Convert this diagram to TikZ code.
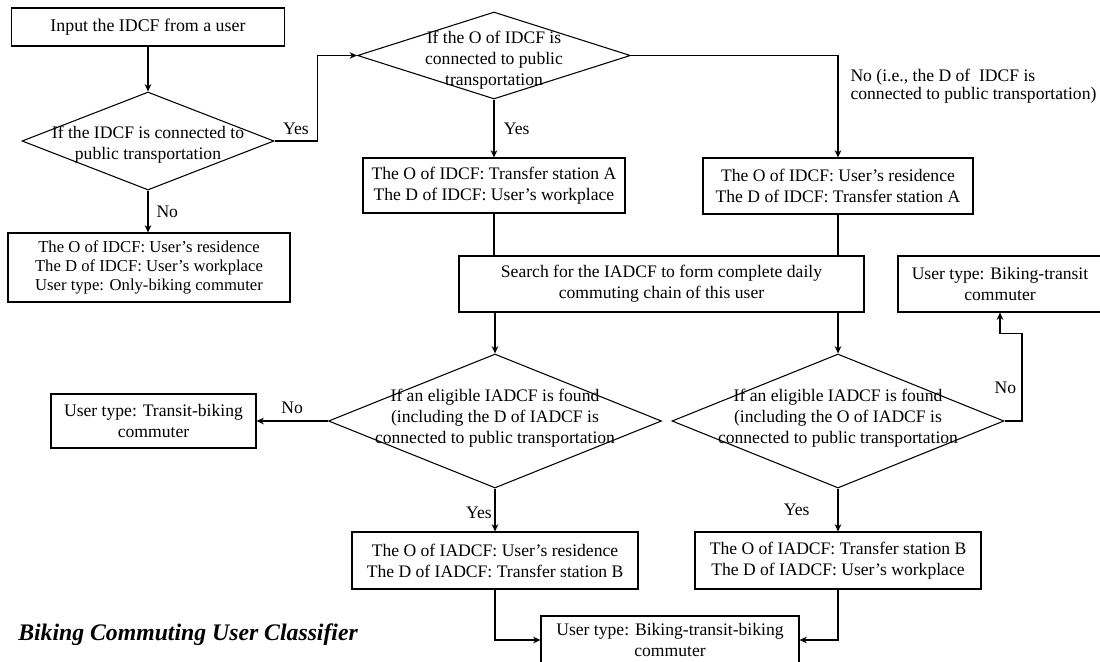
\documentclass[tikz,border=0pt]{standalone}
\usepackage{fontspec}
\setmainfont{Liberation Serif}
\usetikzlibrary{arrows.meta,positioning,shapes.geometric,calc}
\newcommand{\nfont}{\fontsize{13.2}{15.75}\selectfont}
\newcommand{\dtext}[2][0pt]{\smash{\makebox[0pt]{\raisebox{#1}{\begin{tabular}{@{}c@{}}#2\end{tabular}}}}}
\tikzset{
  box/.style={draw,line width=0.8pt,inner sep=0pt,align=center,font=\nfont},
  choice/.style={diamond,draw,line width=0.8pt,inner sep=0pt,font=\nfont},
  wd/.style={minimum width=#1*0.75pt},
  ht/.style={minimum height=#1*0.75pt},
  arr/.style={-{Stealth[length=5.5pt,width=5pt]},line width=0.8pt},
  link/.style={line width=0.8pt},
  lbl/.style={font=\nfont,inner sep=0pt}
}
\begin{document}
\begin{tikzpicture}[x=0.75pt,y=-0.75pt]
  \useasboundingbox (0,0) rectangle (1100,661);
  % first check
  \node[box,wd=273,ht=38,font=\fontsize{13.4}{16}\selectfont] (input) at (148,27) {Input the IDCF from a user};
  \node[choice,wd=252,ht=98] (conn) at (148,141) {\dtext[-5.9pt]{If the IDCF is connected to\\public transportation}};
  \node[box,wd=282,ht=69,font=\fontsize{12.5}{14.3}\selectfont] (onlybike) at (149,267.5) {The O of IDCF: User's residence\\The D of IDCF: User's workplace\\User type: Only-biking commuter};
  % origin or destination
  \node[choice,wd=273,ht=87] (origin) at (494,55.5) {\dtext[-6.3pt]{If the O of IDCF is\\connected to public\\transportation}};
  \node[box,wd=262,ht=55] (oxfer) at (494,185.5) {The O of IDCF: Transfer station A\\The D of IDCF: User's workplace};
  \node[box,wd=270,ht=56] (dxfer) at (838,186) {The O of IDCF: User's residence\\The D of IDCF: Transfer station A};
  \node[box,wd=405,ht=56] (search) at (661.5,284) {Search for the IADCF to form complete daily\\commuting chain of this user};
  \node[box,wd=204,ht=56] (bt) at (1000,284) {User type: Biking-transit\\commuter};
  % second checks
  \node[choice,wd=333,ht=134] (dfound) at (495,421) {\dtext[-1pt]{If an eligible IADCF is found\\(including the D of IADCF is\\connected to public transportation}};
  \node[choice,wd=332,ht=134] (ofound) at (838,421) {\dtext[-1pt]{If an eligible IADCF is found\\(including the O of IADCF is\\connected to public transportation}};
  \node[box,wd=205,ht=54] (tb) at (153.5,421) {User type: Transit-biking\\commuter};
  \node[box,wd=286,ht=57] (ires) at (495,560.5) {The O of IADCF: User's residence\\The D of IADCF: Transfer station B};
  \node[box,wd=286,ht=57] (iwork) at (838,560.5) {The O of IADCF: Transfer station B\\The D of IADCF: User's workplace};
  \node[box,wd=258,ht=48] (btb) at (670,640) {User type: Biking-transit-biking\\commuter};
  \node[anchor=west,inner sep=0pt,font=\fontsize{17.8}{20}\selectfont\bfseries\itshape] (title) at (18,635) {Biking Commuting User Classifier};
  % connectors
  \draw[arr] (input.south) -- (conn.north);
  \draw[arr] (conn.south) -- node[lbl,right=6pt]{No} (conn.south |- onlybike.north);
  \draw[arr] (conn.east) -- node[lbl,above=4pt]{Yes} ++(43,0) |- (origin.west);
  \draw[arr] (origin.south) -- node[lbl,right=7pt]{Yes} (origin.south |- oxfer.north);
  \draw[arr] (origin.east) -| node[lbl,pos=0.5,anchor=north west,align=left,xshift=9pt,yshift=-10pt,font=\fontsize{13.2}{13.5}\selectfont]{No (i.e., the D of\ \ IDCF is\\connected to public transportation)} (dxfer.north);
  \draw[link] (oxfer.south) -- (oxfer.south |- search.north);
  \draw[link] (dxfer.south) -- (dxfer.south |- search.north);
  \draw[arr] (dfound.north |- search.south) -- (dfound.north);
  \draw[arr] (ofound.north |- search.south) -- (ofound.north);
  \draw[arr] (dfound.west) -- node[lbl,above=5pt]{No} (tb.east);
  \draw[arr] (dfound.south) -- node[lbl,left=2pt,yshift=-2pt]{Yes} (ires.north);
  \draw[arr] (ofound.south) -- node[lbl,left=21pt]{Yes} (iwork.north);
  \draw[arr] (ofound.east) -| node[lbl,pos=0.69,left=4pt]{No} ([xshift=16.5pt,yshift=-15.75pt]bt.south) -| (bt.south);
  \draw[arr] (ires.south) |- (btb.west);
  \draw[arr] (iwork.south) |- (btb.east);
\end{tikzpicture}
\end{document}
